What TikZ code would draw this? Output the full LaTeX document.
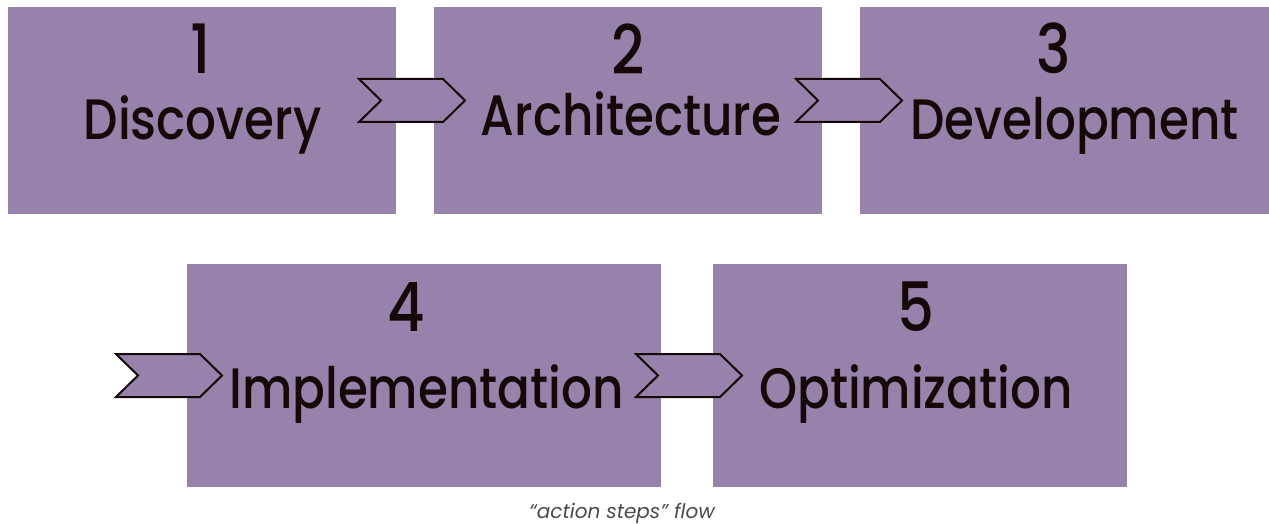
\documentclass[tikz,border=0pt]{standalone}
\usepackage{fontspec}
\setmainfont{Poppins}
\newfontfamily\stepfont{Poppins Medium}[FakeStretch=0.85]
\definecolor{boxpurple}{HTML}{9782AC}
\definecolor{inkdark}{HTML}{140808}
\definecolor{capgray}{HTML}{4A4A4A}
\begin{document}
\begin{tikzpicture}[x=1pt,y=-1pt,
  stepbox/.style={fill=boxpurple,draw=none},
  numtext/.style={text=inkdark,font=\stepfont\fontsize{68}{68}\selectfont,anchor=base,inner sep=0pt},
  wordtext/.style={text=inkdark,font=\stepfont\fontsize{57}{57}\selectfont,anchor=base,inner sep=0pt},
  chevstyle/.style={fill=boxpurple,draw=inkdark,line width=2pt,line join=miter},
  pics/chevron/.style={code={
    \draw[chevstyle] (0,0) -- (84,0) -- (106,21.5) -- (84,43) -- (0,43) -- (22,21.5) -- cycle;}}
]
\useasboundingbox (0,0) rectangle (1269,524);
% boxes
\fill[stepbox] (8,7) rectangle (396,214);
\fill[stepbox] (434,7) rectangle (822,214);
\fill[stepbox] (860,7) rectangle (1290,214);
\fill[stepbox] (187,264) rectangle (661,487);
\fill[stepbox] (713,264) rectangle (1127,487);
% texts
\node[numtext] (n1) at (201,74) {1};
\node[wordtext] (w1) at (202.5,140) {Discovery};
\node[numtext] (n2) at (628,75) {2};
\node[wordtext] (w2) at (631,136) {Architecture};
\node[numtext] (n3) at (1054,74) {3};
\node[wordtext] (w3) at (1074.5,140) {Development};
\node[numtext] (n4) at (406,331) {4};
\node[wordtext] (w4) at (426.5,408) {Implementation};
\node[numtext] (n5) at (916,331) {5};
\node[wordtext] (w5) at (916,408) {Optimization};
% chevrons
\pic at (359,79) {chevron};
\pic at (796,79) {chevron};
\pic at (116,354) {chevron};
\pic at (636,354) {chevron};
% caption
\node[text=capgray,font=\fontsize{20}{20}\selectfont\itshape,anchor=base,inner sep=0pt] (cap) at (622,518) {“action steps” flow};
\end{tikzpicture}
\end{document}
